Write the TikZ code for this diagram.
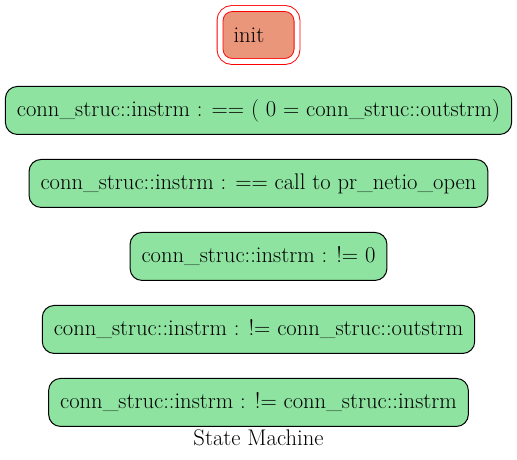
\documentclass[tikz,border=0pt]{standalone}
\usepackage{tikz}
\usetikzlibrary{positioning}

\definecolor{stategreen}{HTML}{8EE3A1}
\definecolor{initsalmon}{HTML}{E9967A}

\begin{document}
\begin{tikzpicture}[x=1pt, y=1pt,
  font=\fontsize{22.6}{26}\selectfont,
  node distance=24pt,
  state/.style={draw, rounded corners=12pt, fill=stategreen, line width=1pt,
    minimum height=48pt, inner xsep=11.5pt},
  initstate/.style={draw=red, double=white, double distance=5pt, line width=0.9pt,
    rounded corners=12pt, fill=initsalmon, minimum height=53pt,
    text width=50pt, align=left, inner xsep=13.5pt}]
\useasboundingbox (0,0) rectangle (517,-460);

\node[initstate] at (258.5,-35) (init) {init};

\node[state, below=24pt of init.south] (s1) {conn\_struc::instrm : == ( 0 = conn\_struc::outstrm)};
\node[state, below=of s1] (s2) {conn\_struc::instrm : == call to pr\_netio\_open};
\node[state, below=of s2] (s3) {conn\_struc::instrm : != 0};
\node[state, below=of s3] (s4) {conn\_struc::instrm : != conn\_struc::outstrm};
\node[state, below=of s4] (s5) {conn\_struc::instrm : != conn\_struc::instrm};

\node[below=3pt of s5, inner sep=0pt] (title) {State Machine};

\end{tikzpicture}
\end{document}
